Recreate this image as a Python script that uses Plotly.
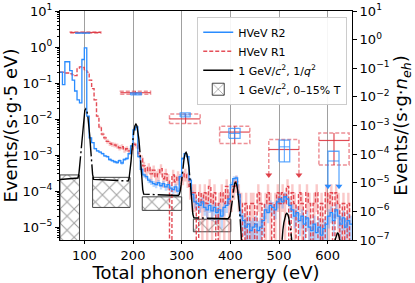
import numpy as np
import plotly.graph_objects as go

# ---------------- data ----------------
BIN_LO = 50          # eV, first bin edge
BIN_W = 5            # eV per bin

# HVeV R2 rate, events/(s g 5 eV), bins 50..645 eV
r2_rate = [
    0.2, 0.09, 0.39, 0.39, 0.22, 0.12, 0.06, 0.034, 0.028, 0.45,
    0.95, 0.012, 0.003, 0.0022, 0.0015, 0.0013, 0.0012, 0.0011, 0.00095, 0.0009,
    0.00075, 0.0007, 0.00065, 0.00062, 0.0007, 0.0006, 0.00075, 0.0008, 0.0011, 0.0018,
    0.005, 0.006, 0.0009, 0.0004, 0.00028, 0.00025, 0.0002, 0.00018, 0.00016, 0.00015,
    0.00017, 0.00014, 0.00016, 0.00013, 0.00015, 0.00012, 0.00011, 0.00013, 0.0001, 0.00025,
    0.0008, 0.0011, 0.0009, 0.0002, 8e-5, 5e-5, 4.5e-5, 4e-5, 5e-5, 3.5e-5,
    3e-5, 4e-5, 2.8e-5, 3.5e-5, 2.5e-5, 3e-5, 2e-5, 3.5e-5, 4e-5, 6e-5,
    1.5e-4, 2.2e-4, 2.3e-4, 8e-5, 2e-5, 1.5e-5, 1e-5, 1.2e-5, 8e-6, 1e-5,
    1.2e-5, 8e-6, 1e-5, 1.5e-5, 3e-5, 2.5e-5, 4e-5, 3.5e-5, 3e-5, 5e-5,
    6e-5, 5e-5, 7e-5, 6e-5, 4e-5, 3e-5, 2e-5, 2.5e-5, 1.5e-5, 2e-5,
    1.2e-5, 1.8e-5, 1e-5, 8e-6, 1.2e-5, 7e-6, 1e-5, 6e-6, 9e-6, 1.2e-5,
    2e-5, 2.5e-5, 1.5e-5, 3e-5, 2e-5, 1.2e-5, 1.8e-5, 1e-5, 1.5e-5, 1.2e-5,
]

# HVeV R1 rate, events/(s g 5 eV), bins 50..645 eV
r1_rate = [
    0.2, 0.2, 0.19, 0.19, 0.18, 0.17, 0.16, 0.26, 0.28, 0.27,
    0.22, 0.2, 0.12, 0.07, 0.034, 0.012, 0.006, 0.0038, 0.003, 0.0024,
    0.0021, 0.002, 0.0019, 0.0018, 0.0016, 0.0017, 0.0014, 0.0015, 0.0013, 0.0013,
    0.002, 0.0018, 0.0011, 0.0008, 0.0005, 0.00035, 0.00045, 0.0003, 0.00038, 0.00025,
    0.0003, 0.00042, 0.00022, 0.0003, 0.0002, 0.0, 0.00028, 0.00018, 0.00025, 0.0002,
    0.00025, 0.0003, 0.00022, 0.000135, 9e-5, 9e-5, 0.0, 9e-5, 4.5e-5, 9e-5,
    4.5e-5, 1.35e-4, 4.5e-5, 9e-5, 0.0, 4.5e-5, 9e-5, 4.5e-5, 1.35e-4, 4.5e-5,
    9e-5, 1.35e-4, 1.8e-4, 9e-5, 4.5e-5, 0.0, 4.5e-5, 0.0, 4.5e-5, 4.5e-5,
    0.0, 9e-5, 4.5e-5, 0.0, 4.5e-5, 9e-5, 4.5e-5, 0.0, 4.5e-5, 9e-5,
    4.5e-5, 9e-5, 4.5e-5, 1.35e-4, 0.0, 9e-5, 4.5e-5, 0.0, 9e-5, 4.5e-5,
    0.0, 9e-5, 4.5e-5, 0.0, 4.5e-5, 9e-5, 0.0, 4.5e-5, 0.0, 9e-5,
    4.5e-5, 9e-5, 0.0, 9e-5, 4.5e-5, 0.0, 4.5e-5, 0.0, 4.5e-5, 0.0,
]

R2_COUNT_UNIT = 6e-6     # rate of one event per bin
R1_COUNT_UNIT = 4.5e-5

# 1 GeV/c^2, 1/q^2 model curve
model_E = ([50, 87, 89, 91, 93, 95, 97, 99, 101, 103, 105, 107, 109, 111, 113, 115, 117, 119]
           + [190, 192, 194, 196, 198, 200, 202, 204, 206, 208, 210, 212, 214, 216, 218, 220, 222]
           + [293, 295, 297, 299, 301, 303, 305, 307, 309, 311, 313, 315, 317, 319, 321, 323, 325]
           + [395, 397, 399, 401, 403, 405, 407, 409, 411, 413, 415, 417, 419, 421, 423, 425, 427, 440]
           + [500, 502, 504, 506, 508, 510, 512, 514, 516, 518, 520, 522, 524, 526, 528, 530, 545]
           + [600, 606, 610, 614, 618, 620, 622, 626, 630, 634, 650])
model_rate = ([2.1e-4, 2.3e-4, 3.1e-4, 6.1e-4, 1.5e-3, 3.6e-3, 7.4e-3, 1.26e-2, 1.73e-2, 1.92e-2,
               1.73e-2, 1.26e-2, 7.4e-3, 3.6e-3, 1.5e-3, 5.9e-4, 2.9e-4, 2.1e-4]
              + [1.9e-4, 2.27e-4, 3.4e-4, 6.8e-4, 1.48e-3, 2.93e-3, 4.87e-3, 6.5e-3, 7.2e-3,
                 6.5e-3, 4.75e-3, 2.8e-3, 1.36e-3, 5.6e-4, 2.3e-4, 1.1e-4, 8.2e-5]
              + [7.5e-5, 8.1e-5, 9.9e-5, 1.5e-4, 2.8e-4, 5.0e-4, 8.1e-4, 1.09e-3, 1.18e-3,
                 1.03e-3, 7.5e-4, 4.5e-4, 2.2e-4, 9.4e-5, 4.1e-5, 2.3e-5, 1.8e-5]
              + [1.7e-5, 1.8e-5, 2.0e-5, 2.8e-5, 4.7e-5, 8.0e-5, 1.24e-4, 1.65e-4, 1.73e-4,
                 1.49e-4, 1.07e-4, 6.3e-5, 2.95e-5, 1.12e-5, 3.4e-6, 8.4e-7, 1.7e-7, 1e-9]
              + [3.4e-7, 9e-7, 2.2e-6, 4.5e-6, 8.3e-6, 1.32e-5, 1.84e-5, 2.25e-5, 2.4e-5,
                 2.25e-5, 1.84e-5, 1.32e-5, 8.3e-6, 4.5e-6, 2.2e-6, 9e-7, 1e-9]
              + [1e-9, 2.7e-7, 1.3e-6, 3.8e-6, 6.5e-6, 7e-6, 6.5e-6, 3.8e-6, 1.3e-6, 2.7e-7, 1e-9])

# 1 GeV/c^2, 0-15% T band (plateaus between peaks)
hatch_E_lo = [50, 117, 219, 324]
hatch_E_hi = [90, 194, 300, 401]
hatch_lo = [0.0, 3.5e-5, 2.9e-5, 7.4e-6]
hatch_hi = [2.8e-4, 2.4e-4, 6.9e-5, 1.65e-5]

# quantized rates per n_eh, events/(s g n_eh) (right axis)
r1_box_E_lo = [71, 174, 275, 378, 479, 582]
r1_box_E_hi = [134, 236, 338, 440, 541, 644]
r1_box_E_c = [102.5, 205, 308, 409, 510, 613]
r1_box_rate = [1.78, 0.014, 1.7e-3, 5.9e-4, 1.45e-4, 3.0e-4]
r1_box_lo = [1.72, 0.0123, 1.17e-3, 2.35e-4, 1.86e-5, 4.2e-5]
r1_box_hi = [1.84, 0.0158, 2.5e-3, 9.5e-4, 3.24e-4, 5.5e-4]
r1_box_limit = [False, False, False, False, True, False]

r2_box_E_lo = [81, 195, 297, 397, 500, 600.6]
r2_box_E_hi = [112, 217, 317.5, 420, 522, 623.3]
r2_box_E_c = [96.5, 206, 307, 408.5, 511, 612]
r2_box_rate = [1.7, 0.0128, 2.35e-3, 5.3e-4, 1.8e-4, 5.75e-5]
r2_box_lo = [1.68, 0.0117, 2.0e-3, 3.55e-4, 5.4e-5, 7.6e-6]
r2_box_hi = [1.72, 0.0138, 2.75e-3, 7.9e-4, 3.1e-4, 1.26e-4]
r2_box_limit = [False, False, False, False, False, True]

x_ticks = [100, 200, 300, 400, 500, 600]
left_exps = [1, 0, -1, -2, -3, -4, -5]
right_exps = [1, 0, -1, -2, -3, -4, -5, -6, -7]

# ---------------- styling ----------------
FLOOR = 1e-9
FONT = "DejaVu Sans"
BLUE = "#2a8cff"
RED = "#e0303c"


def sup(e):
    s = str(abs(e))
    return "10<sup>" + ("\u2212" if e < 0 else "") + s + "</sup>"


edges = BIN_LO + BIN_W * np.arange(len(r2_rate) + 1)


def steps(vals):
    v = np.array(vals, dtype=float)
    return list(np.where(v > 0, v, FLOOR)) + [max(v[-1], FLOOR)]


def band(vals, unit):
    v = np.array(vals, dtype=float)
    err = np.sqrt(v * unit)
    lo = np.where(v - err > 0, v - err, FLOOR)
    hi = np.where(v > 0, v + err, FLOOR)
    return list(lo) + [lo[-1]], list(hi) + [hi[-1]]


fig = go.Figure()

# hatch band (bars from lower to upper edge)
h_lo = np.array([v if v > 0 else FLOOR for v in hatch_lo])
h_hi = np.array(hatch_hi)
h_El = np.array(hatch_E_lo, dtype=float)
h_Eh = np.array(hatch_E_hi, dtype=float)
fig.add_trace(go.Bar(
    x=(h_El + h_Eh) / 2, width=h_Eh - h_El, base=h_lo, y=h_hi - h_lo,
    marker=dict(color="rgba(255,255,255,0)",
                line=dict(color="#444444", width=1),
                pattern=dict(shape="x", fgcolor="#444444", bgcolor="rgba(255,255,255,0)",
                             size=10, solidity=0.2)),
    name="1 GeV/<i>c</i><sup>2</sup>, 0\u201315% T", legendrank=4, hoverinfo="skip"))

# error bands
for vals, unit, col in [(r1_rate, R1_COUNT_UNIT, "rgba(240,100,100,0.35)"),
                        (r2_rate, R2_COUNT_UNIT, "rgba(90,160,255,0.40)")]:
    lo, hi = band(vals, unit)
    fig.add_trace(go.Scatter(x=edges, y=lo, mode="lines", line=dict(width=0, shape="hv"),
                             showlegend=False, hoverinfo="skip"))
    fig.add_trace(go.Scatter(x=edges, y=hi, mode="lines", line=dict(width=0, shape="hv"),
                             fill="tonexty", fillcolor=col, showlegend=False, hoverinfo="skip"))

# histograms
fig.add_trace(go.Scatter(x=edges, y=steps(r1_rate), mode="lines",
                         line=dict(color=RED, width=1.4, shape="hv", dash="4px,2px"),
                         opacity=0.85, name="HVeV R1", legendrank=2))
fig.add_trace(go.Scatter(x=edges, y=steps(r2_rate), mode="lines",
                         line=dict(color=BLUE, width=1.3, shape="hv"),
                         name="HVeV R2", legendrank=1))

# model
fig.add_trace(go.Scatter(x=model_E, y=model_rate, mode="lines",
                         line=dict(color="black", width=1.4, dash="40px,3px,2px,3px"),
                         name="1 GeV/<i>c</i><sup>2</sup>, 1/<i>q</i><sup>2</sup>", legendrank=3))


def box_paths(Elo, Ehi, Ec, rate, lo, hi, limit):
    ox, oy, cx, cy, ax, ay = [], [], [], [], [], []
    for i in range(len(Elo)):
        if limit[i]:
            ox += [Elo[i], Elo[i], Ehi[i], Ehi[i], None]
            oy += [lo[i], hi[i], hi[i], lo[i], None]
            cx += [Elo[i], Ehi[i], None]
            cy += [rate[i], rate[i], None]
            ax += [Elo[i], Ehi[i]]
            ay += [lo[i], lo[i]]
        else:
            ox += [Elo[i], Ehi[i], Ehi[i], Elo[i], Elo[i], None]
            oy += [lo[i], lo[i], hi[i], hi[i], lo[i], None]
            cx += [Elo[i], Ehi[i], None, Ec[i], Ec[i], None]
            cy += [rate[i], rate[i], None, lo[i], hi[i], None]
    return ox, oy, cx, cy, ax, ay


ox, oy, cx, cy, ax, ay = box_paths(r1_box_E_lo, r1_box_E_hi, r1_box_E_c, r1_box_rate,
                                   r1_box_lo, r1_box_hi, r1_box_limit)
fig.add_trace(go.Scatter(x=ox, y=oy, yaxis="y2", mode="lines", showlegend=False,
                         line=dict(color="rgba(225,70,80,0.6)", width=1.5, dash="4px,2px"),
                         hoverinfo="skip"))
fig.add_trace(go.Scatter(x=cx, y=cy, yaxis="y2", mode="lines", showlegend=False,
                         line=dict(color="rgba(220,45,55,0.85)", width=1.2), hoverinfo="skip"))
fig.add_trace(go.Scatter(x=ax, y=ay, yaxis="y2", mode="markers", showlegend=False,
                         marker=dict(symbol="triangle-down", size=6, color="rgba(220,45,55,0.9)"),
                         hoverinfo="skip"))

ox, oy, cx, cy, ax, ay = box_paths(r2_box_E_lo, r2_box_E_hi, r2_box_E_c, r2_box_rate,
                                   r2_box_lo, r2_box_hi, r2_box_limit)
fig.add_trace(go.Scatter(x=ox, y=oy, yaxis="y2", mode="lines", showlegend=False,
                         line=dict(color="rgba(42,140,255,0.75)", width=1.3), hoverinfo="skip"))
fig.add_trace(go.Scatter(x=cx, y=cy, yaxis="y2", mode="lines", showlegend=False,
                         line=dict(color="rgba(42,140,255,0.75)", width=1.1), hoverinfo="skip"))
fig.add_trace(go.Scatter(x=ax, y=ay, yaxis="y2", mode="markers", showlegend=False,
                         marker=dict(symbol="triangle-down", size=6, color=BLUE),
                         hoverinfo="skip"))

left_minor = [k * 10.0 ** e for e in range(-6, 1) for k in range(2, 10)]

fig.update_layout(
    width=415, height=283,
    margin=dict(l=60, r=63, t=11, b=43, autoexpand=False),
    paper_bgcolor="white", plot_bgcolor="white",
    font=dict(family=FONT, size=13, color="black"),
    showlegend=True,
    legend=dict(x=0.47, y=0.975, xanchor="left", yanchor="top", traceorder="normal",
                bgcolor="rgba(255,255,255,0.9)", bordercolor="#cccccc", borderwidth=1,
                font=dict(family=FONT, size=11), itemwidth=30, tracegroupgap=0),
    xaxis=dict(range=[50, 650], autorange=False, tickvals=x_ticks,
               ticktext=[str(t) for t in x_ticks],
               showgrid=True, gridcolor="#a0a0a0", gridwidth=1, zeroline=False,
               ticks="outside", ticklen=3, tickcolor="black",
               showline=True, linecolor="black", linewidth=1, mirror=True,
               title=dict(text="Total phonon energy (eV)", font=dict(size=18), standoff=4),
               tickfont=dict(size=13), automargin=False),
    yaxis=dict(type="log", range=[-5.36, 1], autorange=False,
               tickvals=[10.0 ** e for e in left_exps], ticktext=[sup(e) for e in left_exps],
               showgrid=False, zeroline=False, ticks="outside", ticklen=4, tickcolor="black",
               minor=dict(tickmode="array", tickvals=left_minor, ticks="outside",
                          ticklen=2, tickcolor="black", showgrid=False),
               showline=True, linecolor="black", linewidth=1, automargin=False,
               title=dict(text="Events/(s\u00b7g\u00b75 eV)", font=dict(size=18), standoff=4),
               tickfont=dict(size=13)),
    yaxis2=dict(type="log", range=[-7, 1], autorange=False, overlaying="y", side="right",
                tickvals=[10.0 ** e for e in right_exps], ticktext=[sup(e) for e in right_exps],
                showgrid=False, zeroline=False, ticks="outside", ticklen=4, tickcolor="black",
                showline=True, linecolor="black", linewidth=1, automargin=False,
                title=dict(text="Events/(s\u00b7g\u00b7<i>n</i><sub><i>eh</i></sub>)",
                           font=dict(size=18), standoff=0),
                tickfont=dict(size=13)),
)

fig.write_html("out.html", config={"responsive": False, "displayModeBar": False},
               post_script="document.body.style.margin='0';")
